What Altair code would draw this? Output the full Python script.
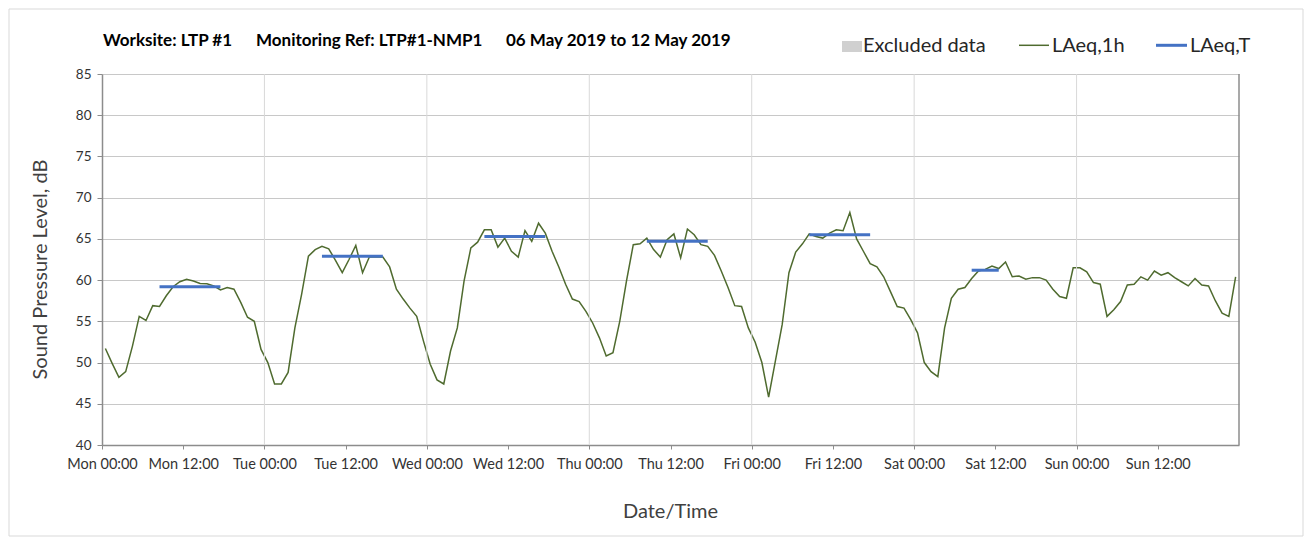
import json
import altair as alt
import pandas as pd

# ---------------- data ----------------
day_names = ["Mon", "Tue", "Wed", "Thu", "Fri", "Sat", "Sun"]
tick_hours = list(range(0, 157, 12))
y_ticks = list(range(40, 86, 5))
day_lines = [24, 48, 72, 96, 120, 144]

laeq_1h = [
    51.7, 49.9, 48.2, 48.9, 52.0, 55.6, 55.1, 56.9, 56.8, 58.1, 59.2, 59.8,
    60.1, 59.9, 59.6, 59.55, 59.3, 58.8, 59.1, 58.9, 57.3, 55.5, 55.0, 51.6,
    50.0, 47.4, 47.4, 48.8, 54.2, 58.3, 62.9, 63.7, 64.1, 63.8, 62.4, 60.9,
    62.5, 64.2, 60.9, 62.8, 62.8, 62.8, 61.6, 58.9, 57.7, 56.6, 55.6, 52.6,
    49.8, 47.9, 47.4, 51.4, 54.2, 59.9, 63.9, 64.6, 66.1, 66.1, 64.0, 65.1,
    63.5, 62.8, 66.0, 64.7, 66.9, 65.7, 63.5, 61.6, 59.5, 57.7, 57.4, 56.2,
    54.8, 53.0, 50.8, 51.2, 55.0, 59.9, 64.3, 64.4, 65.1, 63.7, 62.8, 64.9,
    65.6, 62.7, 66.2, 65.5, 64.3, 64.1, 63.0, 61.1, 59.1, 56.9, 56.8, 54.2,
    52.5, 50.0, 45.8, 50.2, 54.6, 60.9, 63.4, 64.4, 65.6, 65.3, 65.1, 65.7,
    66.1, 66.0, 68.2, 65.0, 63.5, 62.0, 61.6, 60.4, 58.6, 56.8, 56.6, 55.2,
    53.6, 50.0, 48.9, 48.3, 54.2, 57.8, 58.9, 59.1, 60.2, 61.1, 61.3, 61.7,
    61.4, 62.2, 60.4, 60.5, 60.1, 60.3, 60.3, 60.0, 58.9, 58.0, 57.8, 61.5,
    61.5, 61.0, 59.7, 59.5, 55.6, 56.4, 57.4, 59.4, 59.5, 60.4, 60.0, 61.1,
    60.6, 60.9, 60.3, 59.8, 59.3, 60.2, 59.4, 59.3, 57.5, 56.0, 55.6, 60.4,
]
hours = [i + 0.5 for i in range(len(laeq_1h))]

period_start = [8.5, 32.5, 56.5, 80.5, 104.5, 128.5]
period_end = [17.5, 41.5, 65.5, 89.5, 113.5, 132.5]
laeq_t = [59.2, 62.9, 65.3, 64.7, 65.5, 61.2]

title_parts = ["Worksite: LTP #1", "Monitoring Ref: LTP#1-NMP1", "06 May 2019 to 12 May 2019"]
legend_labels = ["Excluded data", "LAeq,1h", "LAeq,T"]

FONT = "Lato"
GREEN = "#4f6b2f"
BLUE = "#4472c4"

df_line = pd.DataFrame({"hour": hours, "value": laeq_1h})
df_t = pd.DataFrame({"hour": period_start, "end": period_end, "value": laeq_t})
df_days = pd.DataFrame({"hour": day_lines})

label_expr = (
    "datum.value >= 168 ? '' : "
    + json.dumps(day_names)
    + "[floor(datum.value / 24)] + (datum.value % 24 == 0 ? ' 00:00' : ' 12:00')"
)

x_scale = alt.Scale(domain=[0, 168], nice=False, zero=False)
y_scale = alt.Scale(domain=[40, 85], nice=False, zero=False)

x_axis = alt.Axis(
    values=tick_hours,
    labelExpr=label_expr,
    labelOverlap=False,
    labelFlush=False,
    grid=False,
    tickSize=4,
    tickColor="#8c8c8c",
    domainColor="#8c8c8c",
    domainWidth=1.5,
    labelFont=FONT,
    labelFontSize=14.5,
    labelColor="#333333",
    labelPadding=8,
    title="Date/Time",
    titleFont=FONT,
    titleFontSize=20,
    titleFontWeight="normal",
    titleColor="#404040",
    titleX=568,
    titleY=66,
    titleBaseline="middle",
    titleAlign="center",
)
y_axis = alt.Axis(
    values=y_ticks,
    grid=True,
    gridColor="#c8c8c8",
    gridWidth=1,
    tickSize=5,
    tickColor="#8c8c8c",
    domainColor="#8c8c8c",
    domainWidth=1.5,
    labelFont=FONT,
    labelFontSize=13.5,
    labelColor="#333333",
    labelPadding=6,
    labelFlush=False,
    title="Sound Pressure Level, dB",
    titleFont=FONT,
    titleFontSize=20,
    titleFontWeight="normal",
    titleColor="#404040",
    titleAngle=-90,
    titleX=-62,
    titleY=195,
    titleAlign="center",
    titleBaseline="middle",
)

X = alt.X("hour:Q", scale=x_scale, axis=x_axis)
Y = alt.Y("value:Q", scale=y_scale, axis=y_axis)

# outer light border
border = alt.Chart(pd.DataFrame({"a": [0]})).mark_rect(
    fill=None, stroke="#d9d9d9", strokeWidth=1
).encode(x=alt.value(-93), x2=alt.value(1201), y=alt.value(-65), y2=alt.value(462))

# vertical day gridlines
vgrid = alt.Chart(df_days).mark_rule(color="#d9d9d9", strokeWidth=1).encode(x=X)

# right border of plot
rborder = alt.Chart(pd.DataFrame({"hour": [168]})).mark_rule(color="#8c8c8c", strokeWidth=1.5).encode(x=X)

line = alt.Chart(df_line).mark_line(color=GREEN, strokeWidth=1.5).encode(x=X, y=Y)

periods = alt.Chart(df_t).mark_rule(color=BLUE, strokeWidth=3).encode(x=X, x2="end:Q", y=Y)

# title pieces
title_x = [1, 154, 404]
title_layers = [
    alt.Chart(pd.DataFrame({"t": [t]})).mark_text(
        font=FONT, fontSize=17, fontWeight="bold", color="#000000", align="left", baseline="alphabetic"
    ).encode(text="t:N", x=alt.value(xx), y=alt.value(-28))
    for t, xx in zip(title_parts, title_x)
]

# legend
leg_rect = alt.Chart(pd.DataFrame({"a": [0]})).mark_rect(color="#d0d0d0").encode(
    x=alt.value(740), x2=alt.value(760), y=alt.value(-33), y2=alt.value(-22)
)
leg_green = alt.Chart(pd.DataFrame({"a": [0]})).mark_rule(color=GREEN, strokeWidth=1.5).encode(
    x=alt.value(917), x2=alt.value(947), y=alt.value(-28.7)
)
leg_blue = alt.Chart(pd.DataFrame({"a": [0]})).mark_rule(color=BLUE, strokeWidth=3).encode(
    x=alt.value(1054), x2=alt.value(1085), y=alt.value(-28.7)
)
leg_x = [761, 950, 1088]
leg_texts = [
    alt.Chart(pd.DataFrame({"t": [t]})).mark_text(
        font=FONT, fontSize=20, color="#262626", align="left", baseline="alphabetic"
    ).encode(text="t:N", x=alt.value(xx), y=alt.value(-22.5))
    for t, xx in zip(legend_labels, leg_x)
]

chart = alt.layer(
    line, border, vgrid, periods, rborder,
    *title_layers, leg_rect, leg_green, leg_blue, *leg_texts,
).properties(
    width=1137,
    height=371,
    autosize=alt.AutoSizeParams(type="none"),
    padding={"left": 94, "top": 66, "right": 65, "bottom": 94},
    background="white",
).configure_view(stroke=None)

chart.save("out.html", embed_options={"renderer": "svg", "actions": False})
